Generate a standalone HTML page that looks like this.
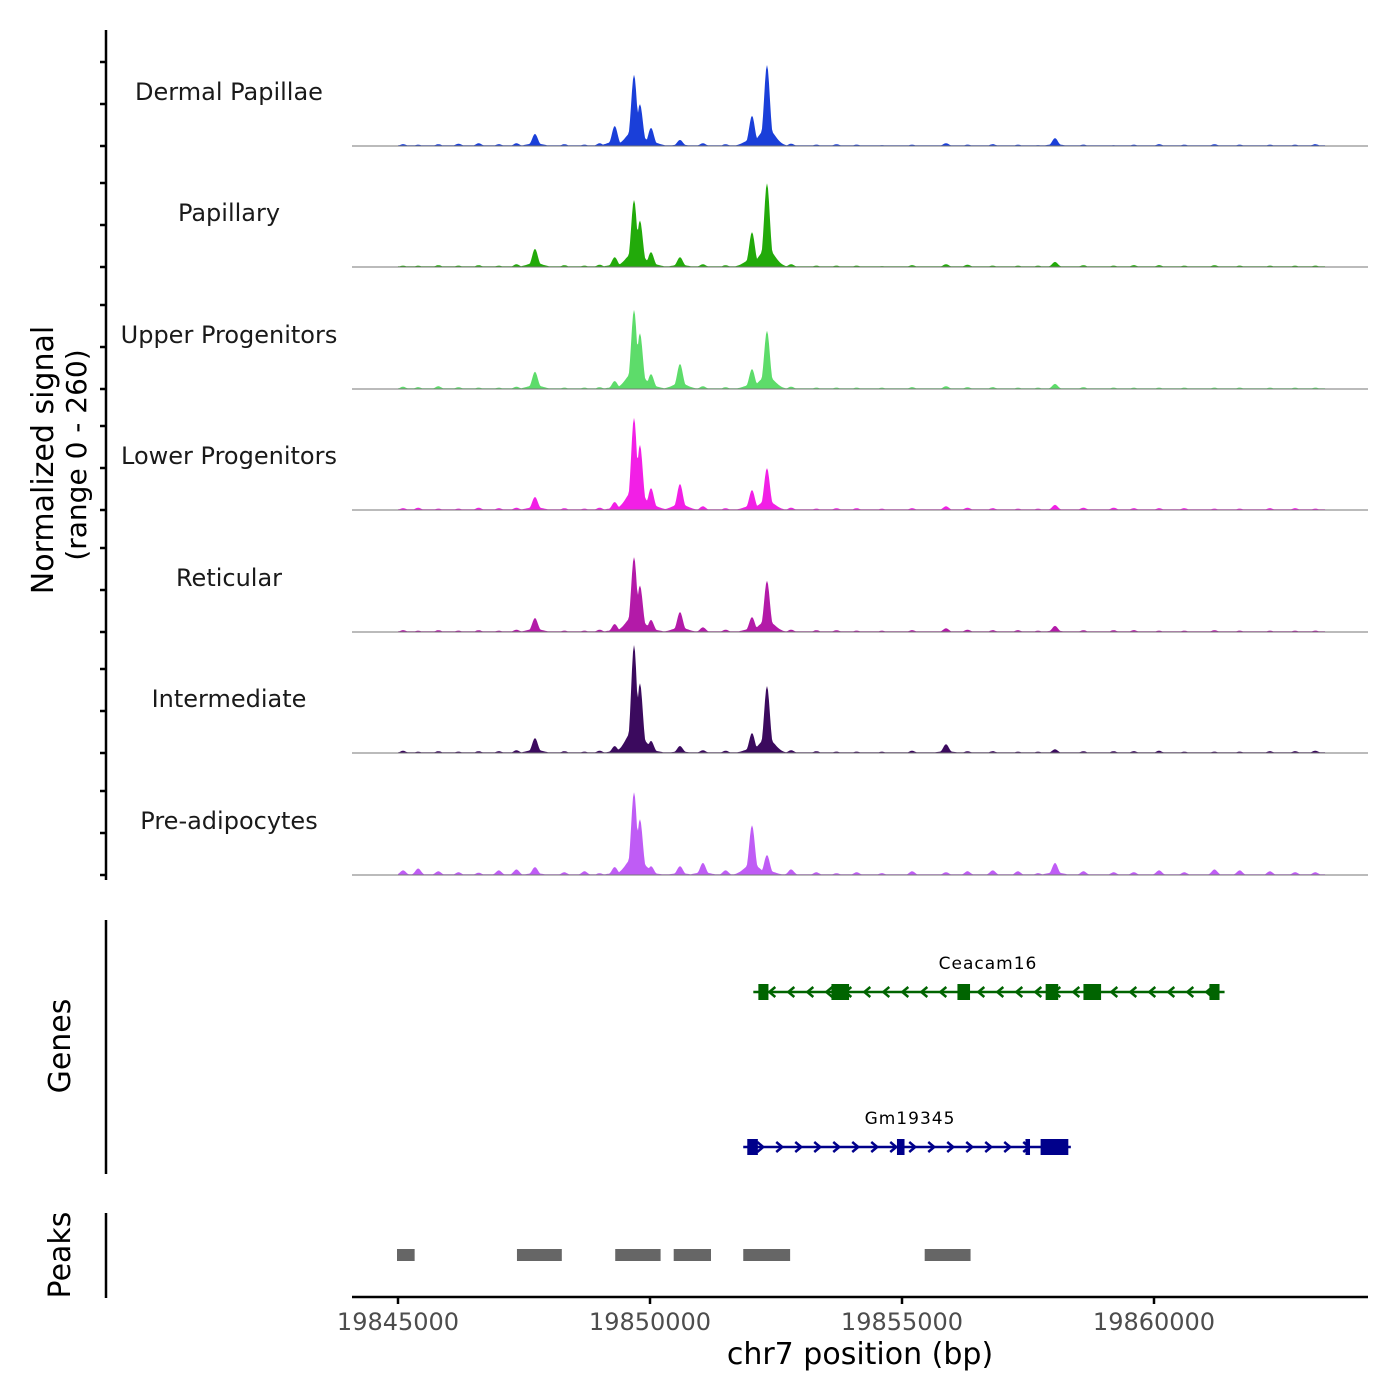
<!DOCTYPE html>
<html><head><meta charset="utf-8"><style>
body{margin:0;background:#fff}
svg{display:block;font-family:"DejaVu Sans","Liberation Sans",sans-serif}
</style></head><body>
<svg id="c" width="1400" height="1400" viewBox="0 0 1400 1400">
<rect width="1400" height="1400" fill="#fff"/>
<g id="tracks"></g>
<g id="yaxis"></g>
<text x="53" y="460" transform="rotate(-90 53 460)" text-anchor="middle" font-size="30" fill="#000">Normalized signal</text>
<text x="86" y="455" transform="rotate(-90 86 455)" text-anchor="middle" font-size="28" fill="#000">(range 0 - 260)</text>
<line x1="106" y1="920" x2="106" y2="1174" stroke="#000" stroke-width="2.5"/>
<text x="70" y="1046" transform="rotate(-90 70 1046)" text-anchor="middle" font-size="30">Genes</text>
<g id="genes"></g>
<line x1="106" y1="1213" x2="106" y2="1298" stroke="#000" stroke-width="2.5"/>
<text x="70" y="1255" transform="rotate(-90 70 1255)" text-anchor="middle" font-size="30">Peaks</text>
<g id="peaks"></g>
<g id="xaxis"></g>
<text x="860" y="1364" text-anchor="middle" font-size="30">chr7 position (bp)</text>
</svg>
<script>
// ---- data ----
const trackNames=["Dermal Papillae","Papillary","Upper Progenitors","Lower Progenitors","Reticular","Intermediate","Pre-adipocytes"];
const trackColors=["#1a3fd9","#22aa0a","#5ddc6a","#f21fe6","#b31aa8","#3b0a5e","#bf5cf5"];
const majorPos=[19847718,19849300,19849683,19849800,19850020,19850595,19851050,19852024,19852321,19855873,19858036];
const dpVals=[26,43,153,90,39,13,6,65,174,6,17];
const papVals=[39,21,144,100,32,21,6,75,180,6,11];
const upVals=[37,17,170,120,32,54,6,43,125,6,11];
const lpVals=[28,17,198,140,47,56,8,43,90,8,11];
const retVals=[30,17,161,100,26,43,10,32,110,8,13];
const intVals=[32,15,232,150,26,15,6,43,144,19,8];
const preVals=[17,17,178,120,19,19,26,107,43,6,26];
const minorPos=[19845100,19845400,19845800,19846200,19846600,19847000,19847350,19848300,19848700,19849000,19851500,19852800,19853300,19853700,19854100,19854600,19855200,19856300,19856800,19857300,19857700,19858600,19859200,19859600,19860100,19860600,19861200,19861700,19862300,19862800,19863200];
const dpMinor=[4,3,4,5,6,4,6,4,3,6,4,5,3,4,3,2,3,3,4,3,2,3,2,3,4,3,4,3,3,3,4];
const papMinor=[3,3,4,3,4,3,6,4,3,5,4,6,3,3,3,2,4,5,3,3,3,4,3,4,4,3,4,3,3,3,3];
const upMinor=[5,4,6,4,3,3,5,3,3,4,4,5,3,3,3,3,4,4,4,3,3,4,3,3,3,3,3,3,3,3,3];
const lpMinor=[4,5,3,3,5,4,5,4,3,5,4,5,3,4,4,3,4,5,4,3,3,5,5,4,4,4,3,3,4,4,3];
const retMinor=[4,3,4,3,4,3,5,3,3,5,5,5,4,4,3,3,4,5,4,4,3,4,4,4,3,3,4,3,3,3,3];
const intMinor=[5,3,4,3,4,4,6,4,3,5,5,6,4,3,3,3,5,4,4,3,3,4,4,4,5,3,3,3,4,4,5];
const preMinor=[10,14,8,6,5,10,12,6,8,4,10,12,6,4,6,4,8,8,10,8,4,8,6,6,10,6,12,10,8,6,6];
const xTicks=[19845000,19850000,19855000,19860000];
const peakStarts=[19845000,19847380,19849330,19850490,19851870,19855470];
const peakEnds=[19845350,19848270,19850230,19851230,19852800,19856380];
const ceacamExons=[[19852150,19852350],[19853600,19853950],[19856100,19856350],[19857850,19858100],[19858600,19858950],[19861100,19861300]];
const gmExons=[[19851930,19852140],[19854900,19855050],[19857450,19857540],[19857750,19858300]];

const NS="http://www.w3.org/2000/svg";
const X=bp=>398+(bp-19845000)*0.0504;
const Y0=[146,267,389,510,632,753,875];
const SC=121/260;
function mk(t,a,p){const e=document.createElementNS(NS,t);for(const k in a)e.setAttribute(k,a[k]);p.appendChild(e);return e;}
const tg=document.getElementById('tracks'),yg=document.getElementById('yaxis');
const vals=[dpVals,papVals,upVals,lpVals,retVals,intVals,preVals];
const mins=[dpMinor,papMinor,upMinor,lpMinor,retMinor,intMinor,preMinor];
vals.forEach((v,i)=>{
  const y0=Y0[i];
  let d=`M${X(19845000)},${y0}`;
  for(let px=X(19845000);px<=X(19863400);px+=1){
    let h=0;
    majorPos.forEach((p,j)=>{const dx=(px-X(p));const a=dx/4,b=dx/11;
      h=Math.max(h,v[j]*Math.exp(-a*a),v[j]*0.22*Math.exp(-b*b));});
    minorPos.forEach((p,j)=>{const dx=(px-X(p))/4;h=Math.max(h,mins[i][j]*Math.exp(-dx*dx));});
    h=Math.max(h,1.5);
    d+=`L${px},${(y0-h*SC).toFixed(1)}`;
  }
  d+=`L${X(19863400)},${y0}Z`;
  const a=mk('path',{d,fill:trackColors[i]},tg);
  
  
  const b=mk('line',{x1:352,x2:1368,y1:y0,y2:y0,stroke:'#777','stroke-width':1},tg);
  
  
  const t=mk('text',{x:229,y:y0-46,'text-anchor':'middle','font-size':24,fill:'#1a1a1a'},tg);
  t.textContent=trackNames[i];
  
  
  [0,42,84].forEach(o=>{const tk=mk('line',{x1:100,x2:106,y1:y0-o,y2:y0-o,stroke:'#000','stroke-width':2.5},yg);
    
    });
});
mk('line',{x1:106,x2:106,y1:30,y2:880,stroke:'#000','stroke-width':2.5},yg);

// genes
const gg=document.getElementById('genes');
function gene(name,y,s,e,exons,col,dir,lx){
  mk('line',{x1:X(s),x2:X(e),y1:y,y2:y,stroke:col,'stroke-width':2.5},gg);
  for(let px=X(s)+18;px<X(e)-10;px+=19){
    const w=dir<0?`M${px+4},${y-5}L${px-2},${y}L${px+4},${y+5}`:`M${px-4},${y-5}L${px+2},${y}L${px-4},${y+5}`;
    mk('path',{d:w,fill:'none',stroke:col,'stroke-width':2.5},gg);
  }
  exons.forEach(ex=>{const r=mk('rect',{x:X(ex[0]),y:y-8,width:Math.max(3,X(ex[1])-X(ex[0])),height:16,fill:col},gg);
    
    });
  const t=mk('text',{x:lx,y:y-23,'text-anchor':'middle','font-size':17,fill:'#000','letter-spacing':'1'},gg);
  t.textContent=name;
  
  
}
gene('Ceacam16',992,19852050,19861400,ceacamExons,'#006400',-1,988);
gene('Gm19345',1147,19851850,19858350,gmExons,'#00008b',1,910);

// peaks
const pg=document.getElementById('peaks');
peakStarts.forEach((s,i)=>{const r=mk('rect',{x:X(s)-1,y:1249,width:X(peakEnds[i])-X(s),height:12,fill:'#666'},pg);
  
  });

// x axis
const xg=document.getElementById('xaxis');
mk('line',{x1:352,x2:1368,y1:1297,y2:1297,stroke:'#000','stroke-width':2.5},xg);
xTicks.forEach(t=>{mk('line',{x1:X(t),x2:X(t),y1:1297,y2:1304,stroke:'#000','stroke-width':2.5},xg);
  const l=mk('text',{x:X(t),y:1330,'text-anchor':'middle','font-size':24,fill:'#4d4d4d'},xg);
  l.textContent=t;
  
  });
</script>
</body></html>
